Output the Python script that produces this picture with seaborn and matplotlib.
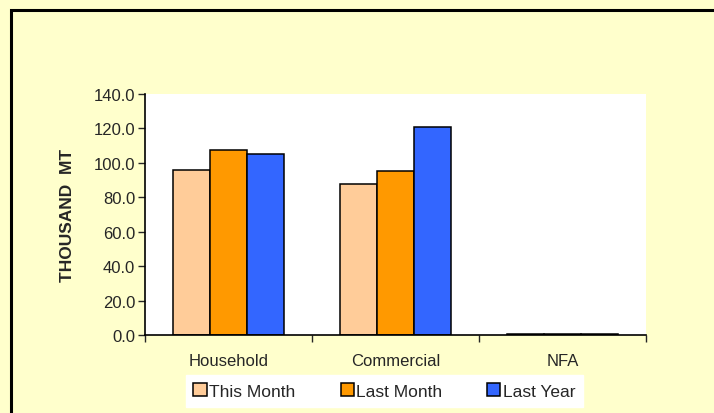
import numpy as np
import pandas as pd
import seaborn as sns
import matplotlib.pyplot as plt
from matplotlib.patches import Rectangle
from matplotlib.ticker import FormatStrFormatter

# Data
categories = ['Household', 'Commercial', 'NFA']
periods = ['This Month', 'Last Month', 'Last Year']
this_month = [96.0, 87.7, 0.5]
last_month = [107.7, 95.5, 0.5]
last_year = [105.0, 121.0, 0.3]
colors = ['#FFCC99', '#FF9900', '#3366FF']

df = pd.DataFrame({
    'Category': categories * 3,
    'Period': [p for p in periods for _ in categories],
    'Value': this_month + last_month + last_year,
})

sns.set_style("white")
plt.rcParams['font.family'] = ['Liberation Sans', 'DejaVu Sans']

bg = '#FFFFCC'
fig = plt.figure(figsize=(7.14, 4.14), dpi=100, facecolor=bg)

# black frame around the chart area (only top and left visible in the reference)
fig.patches.append(Rectangle((10.5 / 714, -0.2), 1.2, (414 - 10.5) / 414 + 0.2,
                             transform=fig.transFigure, facecolor=bg,
                             edgecolor='black', linewidth=2.2, zorder=-5))

ax = fig.add_axes([145 / 714, (414 - 336) / 414, 501 / 714, 241 / 414])
ax.set_facecolor('white')
ax.set_zorder(2)

sns.barplot(data=df, x='Category', y='Value', hue='Period', order=categories,
            hue_order=periods, palette=colors, width=0.665, gap=0,
            edgecolor='black', linewidth=1.1, saturation=1, ax=ax)

ax.set_ylim(0, 140)
ax.set_xlim(-0.5, 2.5)
ax.set_yticks(np.arange(0, 141, 20))
ax.yaxis.set_major_formatter(FormatStrFormatter('%.1f'))
ax.tick_params(axis='y', direction='out', length=5, width=1, labelsize=12, pad=2, left=True)
ax.set_xticks([-0.5, 0.5, 1.5, 2.5], minor=True)
ax.tick_params(axis='x', which='minor', direction='out', length=5, width=1, bottom=True)
ax.tick_params(axis='x', which='major', length=0, labelsize=12, pad=13)

for side in ['top', 'right']:
    ax.spines[side].set_visible(False)
for side in ['left', 'bottom']:
    ax.spines[side].set_color('black')
    ax.spines[side].set_linewidth(1.2)

ax.set_xlabel('')
ax.set_ylabel('THOUSAND  MT', fontsize=12.5, fontweight='bold')
ax.yaxis.set_label_coords(-0.14, 0.5)

handles, labels = ax.get_legend_handles_labels()
ax.legend(handles, labels, loc='center', bbox_to_anchor=(384.5 / 714, 22 / 414),
          bbox_transform=fig.transFigure, ncol=3, frameon=True, fancybox=False,
          facecolor='white', edgecolor='white', framealpha=1, fontsize=12.5,
          handlelength=0.75, handleheight=0.75, handletextpad=0.15,
          columnspacing=2.6, borderpad=0.45)

fig.savefig('out.png', dpi=100, facecolor=bg)
